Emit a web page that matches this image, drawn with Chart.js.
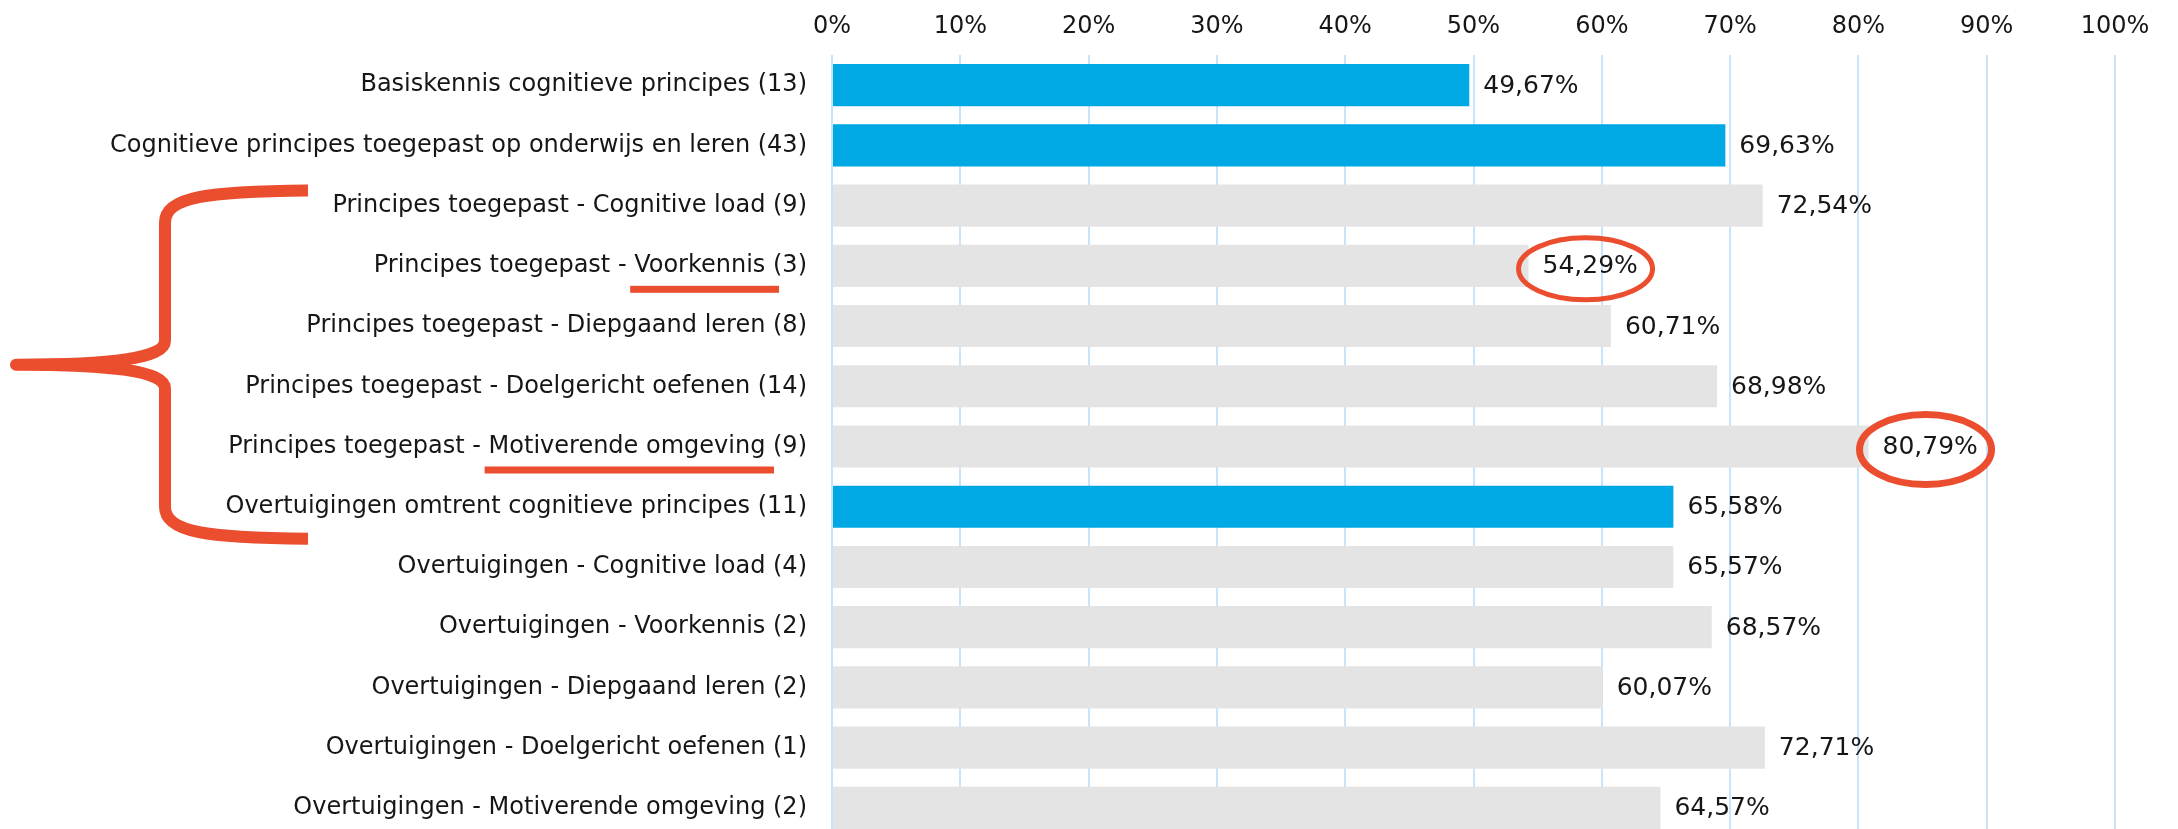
<!DOCTYPE html>
<html><head><meta charset="utf-8">
<script src="https://cdn.jsdelivr.net/npm/chart.js@4/dist/chart.umd.min.js"></script>
<style>html,body{margin:0;padding:0;overflow:hidden;background:#fff}canvas{display:block}</style>
</head><body>
<canvas id="c" width="2178" height="838"></canvas>
<script>
// ---- data ----
const categories = [
  'Basiskennis cognitieve principes (13)',
  'Cognitieve principes toegepast op onderwijs en leren (43)',
  'Principes toegepast - Cognitive load (9)',
  'Principes toegepast - Voorkennis (3)',
  'Principes toegepast - Diepgaand leren (8)',
  'Principes toegepast - Doelgericht oefenen (14)',
  'Principes toegepast - Motiverende omgeving (9)',
  'Overtuigingen omtrent cognitieve principes (11)',
  'Overtuigingen - Cognitive load (4)',
  'Overtuigingen - Voorkennis (2)',
  'Overtuigingen - Diepgaand leren (2)',
  'Overtuigingen - Doelgericht oefenen (1)',
  'Overtuigingen - Motiverende omgeving (2)'
];
const percentages = [49.67, 69.63, 72.54, 54.29, 60.71, 68.98, 80.79, 65.58, 65.57, 68.57, 60.07, 72.71, 64.57];
const rowKind = ['total','total','sub','sub','sub','sub','sub','total','sub','sub','sub','sub','sub'];
const xTickValues = [0, 10, 20, 30, 40, 50, 60, 70, 80, 90, 100];
const circledRows = [3, 6];
const underlinedWords = [['Principes toegepast - Voorkennis (3)', 'Voorkennis'], ['Principes toegepast - Motiverende omgeving (9)', 'Motiverende omgeving']];
const braceFromRow = 2, braceToRow = 7;

// ---- style ----
const FONT = '"DejaVu Sans", Verdana, sans-serif';
const FS_TICK = 24, FS_CAT = 24, FS_VAL = 25;
const BLUE = '#00A8E4', GREY = '#E4E4E4', GRID = '#C9E3F9', RED = '#EB4D2F', TEXT = '#161616';
const Y_PAD = 25;
const UNDERLINE_END = [6, 1];
const ELLIPSE_STYLE = [{ rx: 67, ry: 31, lw: 5 }, { rx: 66, ry: 35, lw: 7 }];

const fmt = v => v.toFixed(2).replace('.', ',') + '%';

const valueLabels = {
  id: 'valueLabels',
  afterDatasetsDraw(chart) {
    const ctx = chart.ctx;
    const meta = chart.getDatasetMeta(0);
    ctx.save();
    ctx.font = FS_VAL + 'px ' + FONT;
    ctx.fillStyle = TEXT;
    ctx.textAlign = 'left';
    ctx.textBaseline = 'middle';
    meta.data.forEach((bar, i) => ctx.fillText(fmt(percentages[i]), bar.x + 14, bar.y + 1));
    ctx.restore();
  }
};

const annotations = {
  id: 'annotations',
  afterDraw(chart) {
    const ctx = chart.ctx;
    const ys = chart.scales.y;
    const meta = chart.getDatasetMeta(0);
    ctx.save();
    ctx.strokeStyle = RED;
    ctx.fillStyle = RED;

    // brace
    const yTop = ys.getPixelForValue(braceFromRow) - 15;
    const yBot = ys.getPixelForValue(braceToRow) + 32;
    const yMid = (yTop + yBot) / 2;
    const xEnd = 308, xV = 165, xTip = 16;
    ctx.lineWidth = 12;
    ctx.lineCap = 'butt';
    ctx.lineJoin = 'round';
    ctx.beginPath();
    ctx.moveTo(xEnd, yTop);
    ctx.bezierCurveTo(xEnd - 100, yTop + 1, xV, yTop + 6, xV, yTop + 32);
    ctx.lineTo(xV, yMid - 24);
    ctx.bezierCurveTo(xV, yMid - 6, xV - 55, yMid, xTip, yMid);
    ctx.bezierCurveTo(xV - 55, yMid, xV, yMid + 6, xV, yMid + 24);
    ctx.lineTo(xV, yBot - 32);
    ctx.bezierCurveTo(xV, yBot - 6, xEnd - 100, yBot - 1, xEnd, yBot);
    ctx.stroke();

    // underlines
    ctx.font = FS_CAT + 'px ' + FONT;
    const labelRight = ys.right - Y_PAD;
    underlinedWords.forEach(([label, word], k) => {
      const row = categories.indexOf(label);
      const y = ys.getPixelForValue(row) + 23.5;
      const full = ctx.measureText(label).width;
      const start = labelRight - full + ctx.measureText(label.slice(0, label.indexOf(word))).width;
      const paren = labelRight - full + ctx.measureText(label.slice(0, label.lastIndexOf('('))).width;
      ctx.fillRect(start - 4, y - 3.5, paren + UNDERLINE_END[k] - (start - 4), 7);
    });

    // ellipses
    circledRows.forEach((row, k) => {
      const bar = meta.data[row];
      const st = ELLIPSE_STYLE[k];
      ctx.lineWidth = st.lw;
      ctx.beginPath();
      ctx.ellipse(bar.x + 57, bar.y + 3, st.rx, st.ry, 0, 0, Math.PI * 2);
      ctx.stroke();
    });
    ctx.restore();
  }
};

new Chart(document.getElementById('c'), {
  type: 'bar',
  data: {
    labels: categories,
    datasets: [{
      data: percentages,
      backgroundColor: rowKind.map(k => k === 'total' ? BLUE : GREY),
      borderWidth: 0,
      categoryPercentage: 1,
      barPercentage: 0.7
    }]
  },
  options: {
    indexAxis: 'y',
    responsive: false,
    animation: false,
    devicePixelRatio: 1,
    layout: { padding: { left: 0, right: 63, top: 0, bottom: 0 } },
    plugins: { legend: { display: false }, tooltip: { enabled: false } },
    scales: {
      x: {
        position: 'top',
        min: 0, max: 100,
        afterBuildTicks: s => { s.ticks = xTickValues.map(v => ({ value: v })); },
        afterFit: s => { s.height = 55; s.paddingLeft = 0; s.paddingRight = 0; },
        grid: { color: GRID, lineWidth: 2, drawTicks: false },
        border: { display: false },
        ticks: { callback: v => v + '%', font: { family: FONT, size: FS_TICK }, color: TEXT, padding: 14, maxRotation: 0 }
      },
      y: {
        afterFit: s => { s.width = 832; s.paddingTop = 0; s.paddingBottom = 0; },
        grid: { display: false, drawTicks: false },
        border: { display: false },
        ticks: { font: { family: FONT, size: FS_CAT }, color: TEXT, padding: Y_PAD, autoSkip: false }
      }
    }
  },
  plugins: [valueLabels, annotations]
});
</script>
</body></html>
